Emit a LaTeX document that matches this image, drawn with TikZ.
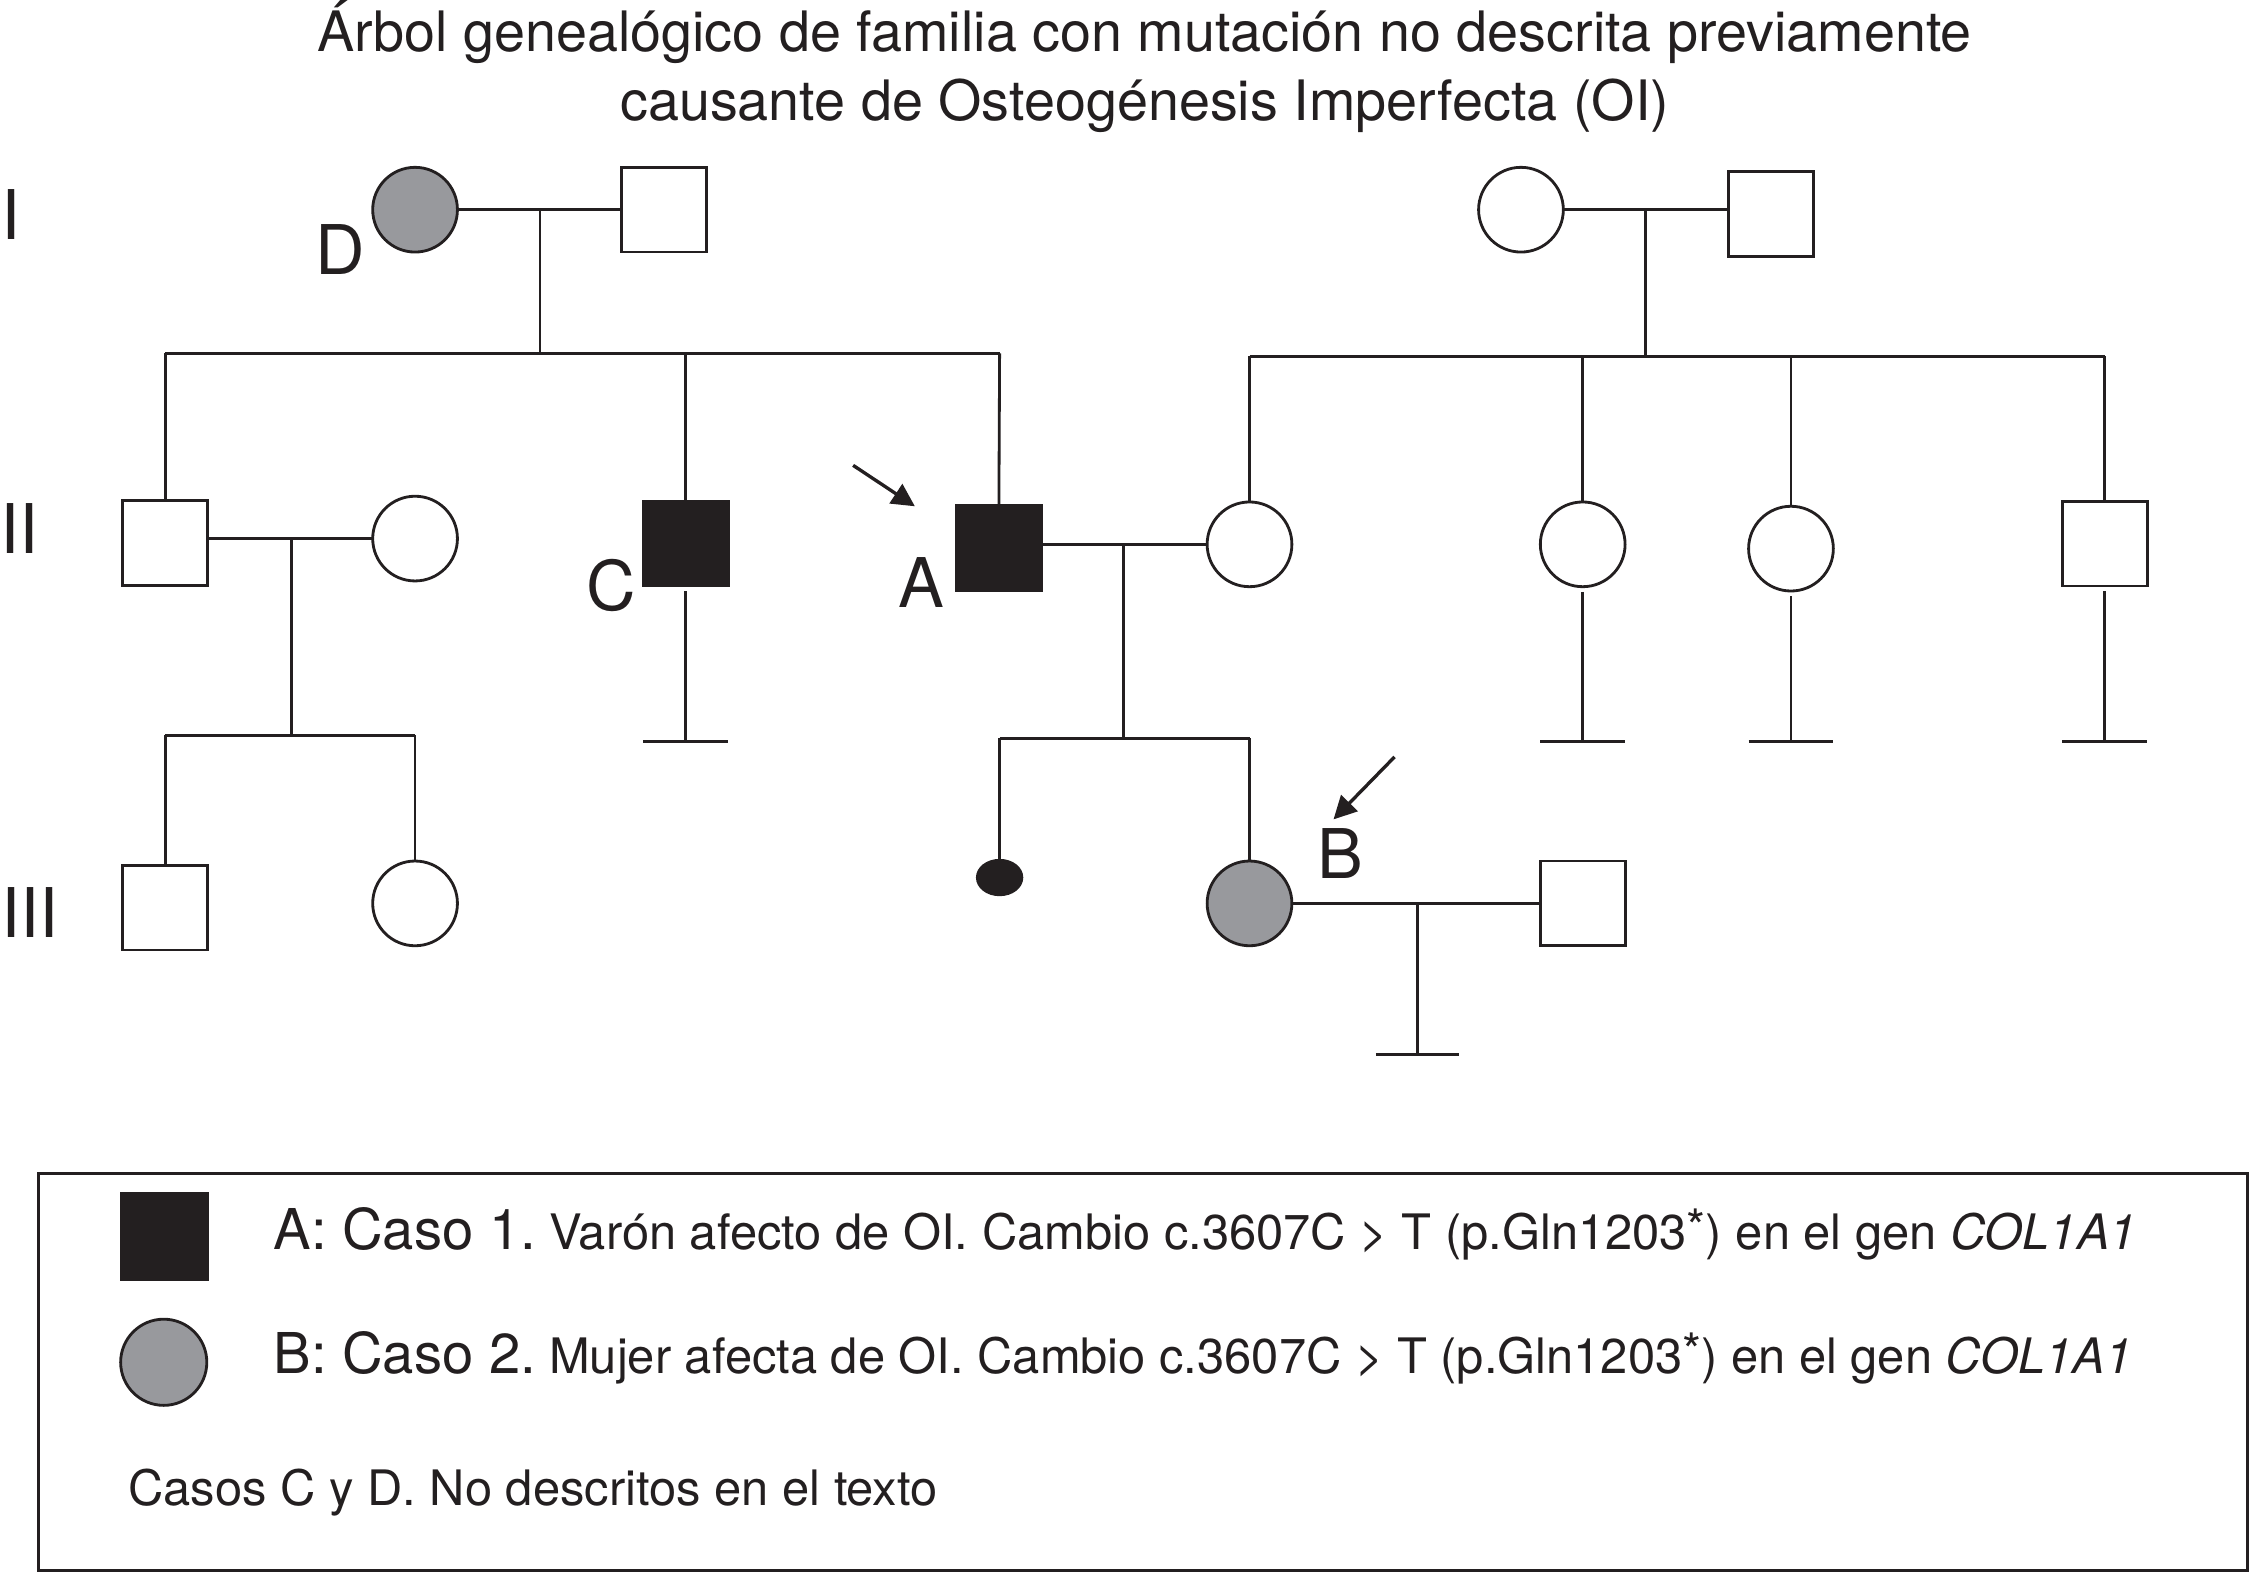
\documentclass[tikz,border=0pt]{standalone}
\usepackage{fontspec}
\setmainfont{TeX Gyre Heros}
\usetikzlibrary{shapes.geometric,arrows.meta}
\definecolor{ogrey}{RGB}{152,153,157}
\definecolor{oblack}{RGB}{35,31,32}
\newdimen\pu
\pu=0.014362cm
\newcommand{\mystar}{\raisebox{1.4pt}{*}}
\begin{document}
\begin{tikzpicture}[x=0.014362cm,y=-0.014362cm,
  base/.style={draw=oblack, line width=0.8pt, inner sep=0pt, outer sep=0pt},
  male/.style={base, rectangle, minimum size=59*\pu},
  female/.style={base, circle, minimum size=59*\pu},
  aff/.style={fill=oblack},
  carrier/.style={fill=ogrey},
  ln/.style={draw=oblack, line width=0.8pt},
  lbl/.style={font=\fontsize{19.5}{22}\selectfont, inner sep=0pt, anchor=base, text=oblack},
  ttl/.style={font=\fontsize{15.85}{18}\selectfont, inner sep=0pt, anchor=base, text=oblack},
  ptr/.style={draw=oblack, line width=0.95pt, -{Triangle[length=6.5pt,width=6.5pt]}},
  legtxt/.style={inner sep=0pt, anchor=base west, text=oblack},
]
\useasboundingbox (0,0) rectangle (1568,1095);

% title
\node[ttl] (t1) at (797,36) {Árbol genealógico de familia con mutación no descrita previamente};
\node[ttl] (t2) at (797,84) {causante de Osteogénesis Imperfecta (OI)};

% generation labels
\node[lbl] (gI) at (8,167) {I};
\node[lbl] (gII) at (13.5,385.5) {II};
\node[lbl] (gIII) at (21,653) {III};

% generation I
\node[female, carrier] (d1) at (289,146) {};
\node[male] (m1) at (462.5,146) {};
\node[female] (f2) at (1059,146) {};
\node[male] (m2) at (1233,149) {};

% generation II
\node[male] (ii1) at (115,378) {};
\node[female] (ii2) at (289,375) {};
\node[male, aff] (iiC) at (477.5,378.5) {};
\node[male, aff] (iiA) at (695.5,381.5) {};
\node[female] (ii5) at (870,379) {};
\node[female] (ii6) at (1102,379) {};
\node[female] (ii7) at (1247,382) {};
\node[male] (ii8) at (1465.5,378.5) {};

% generation III
\node[male] (iii1) at (115,632) {};
\node[female] (iii2) at (289,629) {};
\node[base, ellipse, aff, minimum width=31*\pu, minimum height=24*\pu] (iii3) at (696,611) {};
\node[female, carrier] (iii4) at (870,629) {};
\node[male] (iii5) at (1102,629) {};

% letters
\node[lbl] (lD) at (237,191) {D};
\node[lbl] (lC) at (425.5,425) {C};
\node[lbl] (lA) at (641.5,423) {A};
\node[lbl] (lB) at (933,611.5) {B};

% left family
\coordinate (c1) at (376,146);
\coordinate (s1) at (376,246);
\coordinate (s1l) at (115,246);
\coordinate (s1r) at (696,246);
\draw[ln] (d1.east) -- (m1.west);
\draw[ln] (c1) -- (s1);
\draw[ln] (s1l) -- (s1r);
\draw[ln] (s1l) -- (ii1.north);
\draw[ln] (iiC.north |- s1) -- (iiC.north);
\draw[ln] (s1r) -- (iiA.north);

% right family
\coordinate (c2) at (1145.5,146);
\coordinate (s2) at (1145.5,248);
\coordinate (s2l) at (870,248);
\coordinate (s2r) at (1465.5,248);
\draw[ln] (f2.east) -- (f2.east -| m2.west);
\draw[ln] (c2) -- (s2);
\draw[ln] (s2l) -- (s2r);
\draw[ln] (s2l) -- (ii5.north);
\draw[ln] (ii6.north |- s2) -- (ii6.north);
\draw[ln] (ii7.north |- s2) -- (ii7.north);
\draw[ln] (s2r) -- (ii8.north);

% couple II-1 x II-2
\coordinate (c3) at (203,375);
\coordinate (s3) at (203,512);
\coordinate (s3l) at (115,512);
\coordinate (s3r) at (289,512);
\draw[ln] (ii1.east |- ii2.west) -- (ii2.west);
\draw[ln] (c3) -- (s3);
\draw[ln] (s3l) -- (s3r);
\draw[ln] (s3l) -- (iii1.north);
\draw[ln] (s3r) -- (iii2.north);

% couple A x II-5
\coordinate (c4) at (782,379);
\coordinate (s4) at (782,514);
\coordinate (s4l) at (696,514);
\coordinate (s4r) at (870,514);
\draw[ln] (iiA.east |- ii5.west) -- (ii5.west);
\draw[ln] (c4) -- (s4);
\draw[ln] (s4l) -- (s4r);
\draw[ln] (s4l) -- (iii3.north);
\draw[ln] (s4r) -- (iii4.north);

% couple III-4 x III-5
\coordinate (c5) at (987,629);
\coordinate (t5) at (987,734);
\draw[ln] (iii4.east) -- (iii5.west);
\draw[ln] (c5) -- (t5);
\draw[ln] ([xshift=-29*\pu]t5) -- ([xshift=29*\pu]t5);

% no offspring
\foreach \n in {iiC,ii6,ii7,ii8}{
  \draw[ln, shorten <=1.5pt] (\n.south) -- (\n.south |- 0,516) coordinate (\n t);
  \draw[ln] ([xshift=-29.5*\pu]\n t) -- ([xshift=29.5*\pu]\n t);
}

% proband arrows
\coordinate (aA1) at (594,324);
\coordinate (aA2) at (637,352.5);
\draw[ptr] (aA1) -- (aA2);
\coordinate (aB1) at (971,527);
\coordinate (aB2) at (928.5,570.5);
\draw[ptr] (aB1) -- (aB2);

% legend
\draw[draw=oblack, line width=0.75pt] (27,817) rectangle (1565,1093.5);
\node[male, aff, minimum size=60*\pu] (legA) at (114.5,861) {};
\node[female, carrier, minimum size=60*\pu] (legB) at (114,948.5) {};
\node[legtxt] (txA) at (190,870) {{\fontsize{16}{18}\selectfont A: Caso 1.} {\fontsize{13.9}{16}\selectfont Varón afecto de OI. Cambio c.3607C > T (p.Gln1203\mystar) en el gen \textit{COL1A1}}};
\node[legtxt] (txB) at (190,956) {{\fontsize{16}{18}\selectfont B: Caso 2.} {\fontsize{13.9}{16}\selectfont Mujer afecta de OI. Cambio c.3607C > T (p.Gln1203\mystar) en el gen \textit{COL1A1}}};
\node[legtxt, font=\fontsize{13.9}{16}\selectfont] (txC) at (89,1048) {Casos C y D. No descritos en el texto};
\end{tikzpicture}
\end{document}
